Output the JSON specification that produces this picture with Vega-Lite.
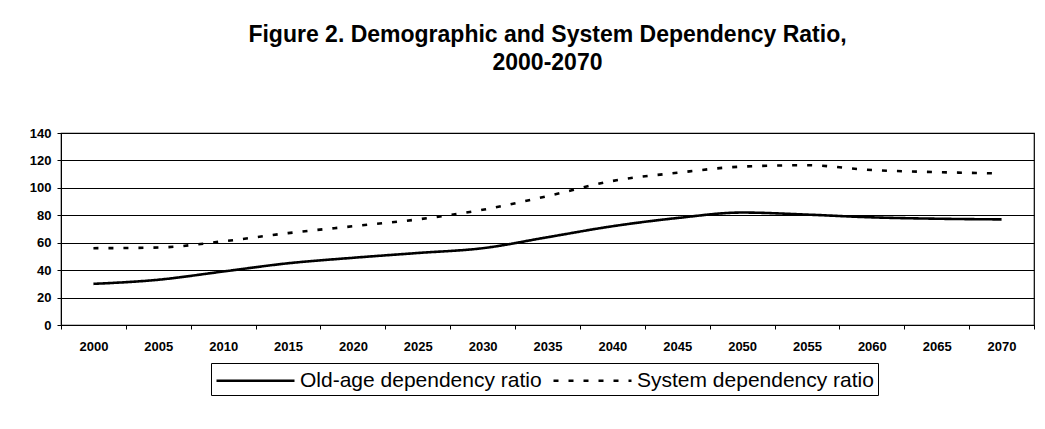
{
  "$schema": "https://vega.github.io/schema/vega-lite/v6.json",
  "width": 973,
  "height": 192,
  "padding": {"left": 29, "top": 24, "right": 10, "bottom": 5},
  "background": "white",
  "title": {
    "text": ["Figure 2. Demographic and System Dependency Ratio,", "2000-2070"],
    "font": "Liberation Sans",
    "fontSize": 23,
    "fontWeight": "bold",
    "lineHeight": 28,
    "color": "black",
    "anchor": "middle",
    "offset": 52
  },
  "config": {
    "view": {"stroke": "black", "strokeWidth": 1.2},
    "axis": {
      "labelFont": "Liberation Sans",
      "labelFontWeight": "bold",
      "labelFontSize": 13,
      "labelColor": "black",
      "domainColor": "black",
      "tickColor": "black",
      "gridColor": "black",
      "gridOpacity": 1,
      "tickSize": 4
    }
  },
  "data": {
    "values": [
      {"year": "2000", "series": "Old-age dependency ratio", "value": 30},
      {"year": "2005", "series": "Old-age dependency ratio", "value": 33},
      {"year": "2010", "series": "Old-age dependency ratio", "value": 39},
      {"year": "2015", "series": "Old-age dependency ratio", "value": 45},
      {"year": "2020", "series": "Old-age dependency ratio", "value": 49},
      {"year": "2025", "series": "Old-age dependency ratio", "value": 52.5},
      {"year": "2030", "series": "Old-age dependency ratio", "value": 56},
      {"year": "2035", "series": "Old-age dependency ratio", "value": 64},
      {"year": "2040", "series": "Old-age dependency ratio", "value": 72},
      {"year": "2045", "series": "Old-age dependency ratio", "value": 78},
      {"year": "2050", "series": "Old-age dependency ratio", "value": 82},
      {"year": "2055", "series": "Old-age dependency ratio", "value": 80.5},
      {"year": "2060", "series": "Old-age dependency ratio", "value": 78.5},
      {"year": "2065", "series": "Old-age dependency ratio", "value": 77.5},
      {"year": "2070", "series": "Old-age dependency ratio", "value": 77},
      {"year": "2000", "series": "System dependency ratio", "value": 56},
      {"year": "2005", "series": "System dependency ratio", "value": 56.5},
      {"year": "2010", "series": "System dependency ratio", "value": 61},
      {"year": "2015", "series": "System dependency ratio", "value": 67},
      {"year": "2020", "series": "System dependency ratio", "value": 72},
      {"year": "2025", "series": "System dependency ratio", "value": 77},
      {"year": "2030", "series": "System dependency ratio", "value": 84},
      {"year": "2035", "series": "System dependency ratio", "value": 94},
      {"year": "2040", "series": "System dependency ratio", "value": 105},
      {"year": "2045", "series": "System dependency ratio", "value": 111},
      {"year": "2050", "series": "System dependency ratio", "value": 115.5},
      {"year": "2055", "series": "System dependency ratio", "value": 116.5},
      {"year": "2060", "series": "System dependency ratio", "value": 113},
      {"year": "2065", "series": "System dependency ratio", "value": 111.5},
      {"year": "2070", "series": "System dependency ratio", "value": 110.5}
    ]
  },
  "mark": {"type": "line", "color": "black", "strokeWidth": 2.6, "interpolate": "monotone"},
  "encoding": {
    "x": {
      "field": "year",
      "type": "ordinal",
      "scale": {"type": "band", "paddingInner": 0, "paddingOuter": 0},
      "axis": {
        "title": null,
        "labelAngle": 0,
        "tickBand": "extent",
        "labelPadding": 11,
        "grid": false
      }
    },
    "y": {
      "field": "value",
      "type": "quantitative",
      "scale": {"domain": [0, 140]},
      "axis": {
        "title": null,
        "values": [0, 20, 40, 60, 80, 100, 120, 140],
        "grid": true,
        "gridWidth": 1.2,
        "labelPadding": 6
      }
    },
    "strokeDash": {
      "field": "series",
      "type": "nominal",
      "scale": {
        "domain": ["Old-age dependency ratio", "System dependency ratio"],
        "range": [[1, 0], [5, 10]]
      },
      "legend": {
        "title": null,
        "orient": "none",
        "legendX": 150,
        "legendY": 230,
        "direction": "horizontal",
        "symbolType": "M-1,0H5.5",
        "symbolSize": 576,
        "symbolStrokeWidth": 2.6,
        "symbolStrokeColor": "black",
        "symbolFillColor": "transparent",
        "labelFont": "Liberation Sans",
        "labelFontSize": 21,
        "labelColor": "black",
        "labelLimit": 400,
        "labelOffset": 58,
        "columnPadding": 6,
        "strokeColor": "black",
        "padding": 4
      }
    }
  }
}
